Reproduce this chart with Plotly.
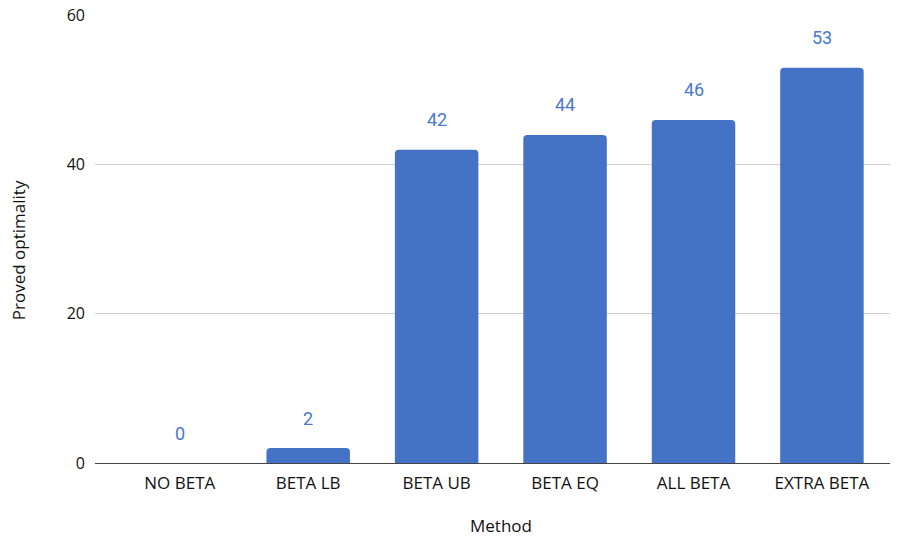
import plotly.graph_objects as go

categories = ["NO BETA", "BETA LB", "BETA UB", "BETA EQ", "ALL BETA", "EXTRA BETA"]
values = [0, 2, 42, 44, 46, 53]
y_ticks = [0, 20, 40, 60]

bar_color = "#4472C4"
label_color = "#4A77CF"
text_font = "'Open Sans', 'DejaVu Sans', sans-serif"

fig = go.Figure()
fig.add_trace(go.Bar(
    x=list(range(len(categories))),
    y=values,
    marker=dict(color=bar_color, cornerradius=4, line=dict(width=0)),
    width=0.65,
    hoverinfo="skip",
))

for i, v in enumerate(values):
    fig.add_annotation(
        x=i, y=v, text=str(v), showarrow=False,
        yanchor="middle", yshift=30,
        font=dict(family="Roboto, Arial, sans-serif", size=18, color=label_color),
    )

# axis titles
fig.add_annotation(
    xref="paper", yref="paper", x=-0.0969, y=0.475,
    text="Proved optimality", textangle=-90, showarrow=False,
    xanchor="center", yanchor="middle",
    font=dict(family=text_font, size=17, color="#111"),
)
fig.add_annotation(
    xref="paper", yref="paper", x=0.511, y=-0.14,
    text="Method", showarrow=False,
    xanchor="center", yanchor="middle",
    font=dict(family=text_font, size=17, color="#111"),
)

# The page has an 8px body margin, so the figure is sized to fit inside it.
fig.update_layout(
    width=894, height=529,
    margin=dict(l=87, r=12, t=7, b=74, autoexpand=False),
    paper_bgcolor="white", plot_bgcolor="white",
    showlegend=False,
    font=dict(family=text_font, size=15, color="#111"),
    xaxis=dict(
        tickmode="array",
        tickvals=list(range(len(categories))),
        ticktext=categories,
        range=[-0.66, 5.53],
        showgrid=False, zeroline=False, showline=False,
        ticks="", ticklen=0, automargin=False,
        ticklabelstandoff=8,
        tickfont=dict(size=17),
    ),
    yaxis=dict(
        range=[0, 60.08],
        tickvals=y_ticks,
        showgrid=True, gridcolor="#D0D0D0", gridwidth=1,
        zeroline=True, zerolinecolor="#444", zerolinewidth=1.3,
        showline=False, ticks="", ticklen=0, automargin=False,
        ticklabelstandoff=9,
        ticklabeloverflow="allow",
        tickfont=dict(size=16),
    ),
)

fig.write_html("out.html")
